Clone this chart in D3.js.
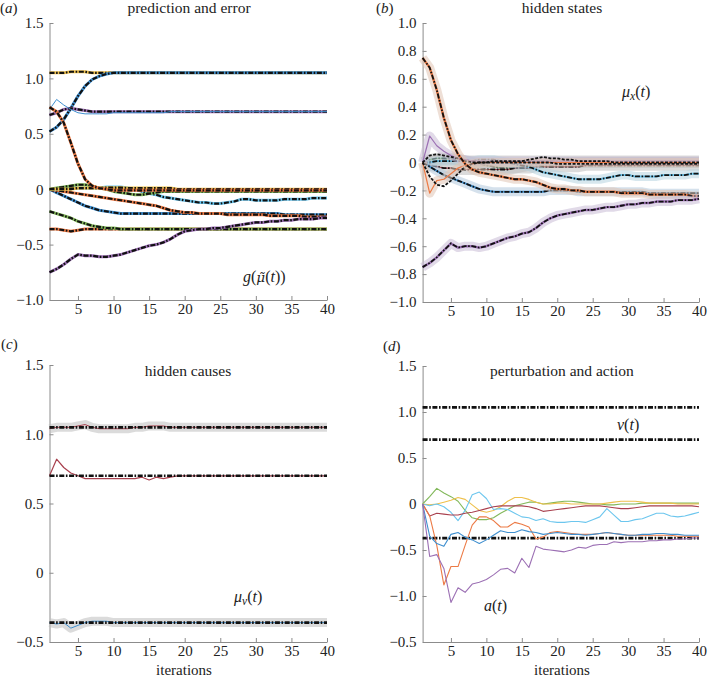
<!DOCTYPE html>
<html>
<head>
<meta charset="utf-8">
<script src="https://cdn.jsdelivr.net/npm/d3@7"></script>
<style>
  body { margin: 0; background: #fff; }
  .axis path, .axis line { stroke: #8c8c8c; }
</style>
</head>
<body>
<div id="chart"></div>
<script>
// x categories: iterations
var iterations = [1,2,3,4,5,6,7,8,9,10,11,12,13,14,15,16,17,18,19,20,21,22,23,24,25,26,27,28,29,30,31,32,33,34,35,36,37,38,39,40];

// ---- (a) prediction and error ----
var aTop     = [1.05,1.05,1.05,1.06,1.06,1.06,1.05,1.05,1.05,1.05,1.05,1.05,1.05,1.05,1.05,1.05,1.05,1.05,1.05,1.05,1.05,1.05,1.05,1.05,1.05,1.05,1.05,1.05,1.05,1.05,1.05,1.05,1.05,1.05,1.05,1.05,1.05,1.05,1.05,1.05];
var aRise    = [0.52,0.56,0.63,0.73,0.84,0.93,0.99,1.02,1.04,1.05,1.05,1.05,1.05,1.05,1.05,1.05,1.05,1.05,1.05,1.05,1.05,1.05,1.05,1.05,1.05,1.05,1.05,1.05,1.05,1.05,1.05,1.05,1.05,1.05,1.05,1.05,1.05,1.05,1.05,1.05];
var aThin    = [0.72,0.81,0.76,0.72,0.69,0.68,0.68,0.68,0.68,0.69,0.69,0.69,0.69,0.69,0.69,0.69,0.69,0.70,0.70,0.70,0.70,0.70,0.70,0.70,0.70,0.70,0.70,0.70,0.70,0.70,0.70,0.70,0.70,0.70,0.70,0.70,0.70,0.70,0.70,0.70];
var aSeven   = [0.67,0.69,0.72,0.73,0.72,0.71,0.70,0.70,0.70,0.70,0.70,0.70,0.70,0.70,0.70,0.70,0.70,0.70,0.70,0.70,0.70,0.70,0.70,0.70,0.70,0.70,0.70,0.70,0.70,0.70,0.70,0.70,0.70,0.70,0.70,0.70,0.70,0.70,0.70,0.70];
var aFall    = [0.74,0.70,0.60,0.42,0.23,0.09,0.03,0.01,0.00,-0.01,-0.01,-0.01,-0.01,-0.01,-0.01,-0.01,-0.01,-0.01,-0.01,-0.01,-0.01,-0.01,-0.01,-0.01,-0.01,-0.01,-0.01,-0.01,-0.01,-0.01,-0.01,-0.01,-0.01,-0.01,-0.01,-0.01,-0.01,-0.01,-0.01,-0.01];
var aZero    = [0.00,0.00,0.00,0.00,0.01,0.01,0.01,0.01,0.01,0.01,0.01,0.01,0.01,0.01,0.01,0.01,0.01,0.01,0.00,0.00,0.00,0.00,0.00,0.00,0.00,0.00,0.00,0.00,0.00,0.00,0.00,0.00,0.00,0.00,0.00,0.00,0.00,0.00,0.00,0.00];
var aBump    = [0.00,0.01,0.02,0.03,0.04,0.04,0.03,0.01,0.00,-0.02,-0.03,-0.04,-0.05,-0.05,-0.04,-0.03,-0.02,-0.02,-0.02,-0.02,-0.02,-0.02,-0.02,-0.02,-0.02,-0.02,-0.02,-0.02,-0.02,-0.02,-0.02,-0.02,-0.02,-0.02,-0.02,-0.02,-0.02,-0.02,-0.02,-0.02];
var aWave    = [0.00,0.00,0.01,0.01,0.01,0.01,0.01,0.01,0.02,0.02,0.02,0.01,0.00,-0.02,-0.04,-0.05,-0.07,-0.08,-0.09,-0.10,-0.11,-0.12,-0.12,-0.13,-0.13,-0.12,-0.11,-0.09,-0.09,-0.10,-0.10,-0.10,-0.10,-0.09,-0.09,-0.09,-0.09,-0.08,-0.08,-0.08];
var aSlide   = [0.00,-0.01,-0.02,-0.03,-0.04,-0.05,-0.06,-0.07,-0.08,-0.09,-0.10,-0.11,-0.12,-0.13,-0.14,-0.15,-0.17,-0.19,-0.20,-0.21,-0.21,-0.22,-0.22,-0.22,-0.22,-0.23,-0.23,-0.23,-0.23,-0.23,-0.23,-0.24,-0.24,-0.24,-0.24,-0.24,-0.25,-0.25,-0.25,-0.25];
var aDrop    = [0.00,-0.03,-0.06,-0.09,-0.12,-0.15,-0.17,-0.19,-0.20,-0.21,-0.22,-0.22,-0.22,-0.22,-0.22,-0.22,-0.22,-0.22,-0.22,-0.22,-0.22,-0.22,-0.22,-0.22,-0.22,-0.22,-0.22,-0.22,-0.22,-0.22,-0.22,-0.22,-0.22,-0.23,-0.23,-0.23,-0.23,-0.23,-0.23,-0.23];
var aGreen   = [-0.20,-0.22,-0.24,-0.26,-0.29,-0.31,-0.33,-0.34,-0.35,-0.35,-0.36,-0.36,-0.36,-0.36,-0.36,-0.36,-0.36,-0.36,-0.36,-0.36,-0.36,-0.36,-0.36,-0.36,-0.36,-0.36,-0.36,-0.36,-0.36,-0.36,-0.36,-0.36,-0.36,-0.36,-0.36,-0.36,-0.36,-0.36,-0.36,-0.36];
var aLow     = [-0.36,-0.36,-0.37,-0.38,-0.37,-0.36,-0.36,-0.36,-0.36,-0.36,-0.36,-0.36,-0.36,-0.36,-0.36,-0.36,-0.36,-0.36,-0.36,-0.36,-0.36,-0.36,-0.36,-0.36,-0.36,-0.36,-0.36,-0.36,-0.36,-0.36,-0.36,-0.36,-0.36,-0.36,-0.36,-0.36,-0.36,-0.36,-0.36,-0.36];
var aClimb   = [-0.75,-0.72,-0.68,-0.63,-0.59,-0.60,-0.60,-0.61,-0.61,-0.60,-0.59,-0.57,-0.55,-0.53,-0.51,-0.50,-0.48,-0.45,-0.41,-0.38,-0.37,-0.36,-0.36,-0.35,-0.35,-0.34,-0.33,-0.32,-0.31,-0.30,-0.30,-0.29,-0.29,-0.28,-0.28,-0.27,-0.27,-0.27,-0.26,-0.26];

// ---- (b) hidden states ----
var bFall    = [0.75,0.68,0.52,0.32,0.16,0.06,-0.01,-0.05,-0.07,-0.08,-0.09,-0.10,-0.11,-0.12,-0.12,-0.13,-0.14,-0.16,-0.18,-0.19,-0.19,-0.20,-0.20,-0.21,-0.21,-0.21,-0.21,-0.21,-0.22,-0.22,-0.22,-0.22,-0.23,-0.23,-0.23,-0.23,-0.23,-0.23,-0.24,-0.24];
var bOrange  = [0.00,-0.22,-0.13,-0.12,-0.08,-0.04,-0.02,-0.01,0.00,0.00,0.00,0.00,0.00,0.00,0.00,0.00,0.00,0.00,0.00,0.00,0.00,0.00,0.00,0.00,0.00,0.00,0.00,0.00,0.00,0.00,0.00,0.00,0.00,0.00,0.00,0.00,0.00,0.00,0.00,0.00];
var bPurple  = [0.00,0.19,0.12,0.08,0.05,0.03,0.02,0.01,0.01,0.01,0.01,0.01,0.01,0.01,0.01,0.01,0.01,0.01,0.01,0.01,0.01,0.01,0.01,0.01,0.01,0.01,0.01,0.01,0.01,0.01,0.01,0.01,0.01,0.01,0.01,0.01,0.01,0.01,0.01,0.01];
var bLoopUp  = [0.00,0.05,0.06,0.05,0.04,0.03,0.01,0.00,0.00,0.00,0.01,0.01,0.01,0.01,0.01,0.02,0.03,0.04,0.03,0.03,0.02,0.02,0.01,0.01,0.01,0.01,0.01,0.00,0.00,0.00,0.00,0.00,0.00,0.00,0.00,0.00,0.00,0.00,0.00,0.00];
var bLoopDn  = [0.00,-0.10,-0.16,-0.17,-0.13,-0.08,-0.03,-0.01,0.00,0.00,0.00,0.00,0.00,0.00,0.00,0.00,0.00,0.00,0.00,-0.01,-0.01,-0.01,-0.01,-0.01,-0.01,-0.01,-0.01,-0.01,-0.01,-0.01,-0.01,-0.01,-0.01,-0.01,-0.01,-0.01,-0.01,-0.01,-0.01,-0.01];
var bDrop    = [0.00,-0.03,-0.06,-0.09,-0.11,-0.13,-0.15,-0.17,-0.19,-0.20,-0.21,-0.21,-0.21,-0.21,-0.21,-0.21,-0.21,-0.21,-0.20,-0.20,-0.20,-0.20,-0.21,-0.21,-0.21,-0.21,-0.21,-0.21,-0.21,-0.21,-0.21,-0.21,-0.22,-0.22,-0.22,-0.22,-0.22,-0.22,-0.22,-0.22];
var bWave    = [0.00,0.00,0.01,0.01,0.01,0.01,0.01,0.01,0.02,0.02,0.02,0.01,0.00,-0.01,-0.02,-0.03,-0.05,-0.07,-0.08,-0.09,-0.10,-0.11,-0.12,-0.12,-0.12,-0.12,-0.11,-0.10,-0.09,-0.09,-0.10,-0.10,-0.10,-0.10,-0.09,-0.09,-0.09,-0.09,-0.08,-0.08];
var bClimb   = [-0.75,-0.72,-0.68,-0.63,-0.58,-0.61,-0.60,-0.60,-0.61,-0.60,-0.58,-0.56,-0.54,-0.53,-0.51,-0.50,-0.47,-0.43,-0.40,-0.38,-0.37,-0.36,-0.35,-0.34,-0.34,-0.33,-0.32,-0.32,-0.31,-0.30,-0.30,-0.29,-0.29,-0.28,-0.28,-0.28,-0.27,-0.27,-0.27,-0.26];
var bRed     = [0.00,-0.02,-0.03,-0.04,-0.04,-0.05,-0.05,-0.05,-0.05,-0.05,-0.05,-0.05,-0.05,-0.04,-0.04,-0.04,-0.03,-0.03,-0.03,-0.03,-0.03,-0.03,-0.03,-0.02,-0.02,-0.02,-0.02,-0.02,-0.02,-0.02,-0.02,-0.02,-0.02,-0.02,-0.02,-0.02,-0.02,-0.02,-0.02,-0.02];
var bGreen   = [0.00,0.02,0.03,0.03,0.03,0.02,0.01,0.00,-0.01,-0.02,-0.03,-0.04,-0.04,-0.04,-0.03,-0.02,-0.01,0.00,0.00,0.00,0.00,0.00,0.00,0.00,0.00,0.00,0.00,0.00,0.00,0.00,0.00,0.00,0.00,0.00,0.00,0.00,0.00,0.00,0.00,0.00];
var bYellow  = [0.00,0.01,0.01,0.02,0.02,0.02,0.01,0.01,0.01,0.01,0.01,0.01,0.01,0.01,0.01,0.01,0.01,0.01,0.01,0.01,0.01,0.01,0.01,0.01,0.01,0.01,0.01,0.01,0.01,0.01,0.01,0.01,0.01,0.01,0.01,0.01,0.01,0.01,0.01,0.01];

// ---- (c) hidden causes ----
var cTrueHigh = [1.05,1.05,1.05,1.05,1.05,1.05,1.05,1.05,1.05,1.05,1.05,1.05,1.05,1.05,1.05,1.05,1.05,1.05,1.05,1.05,1.05,1.05,1.05,1.05,1.05,1.05,1.05,1.05,1.05,1.05,1.05,1.05,1.05,1.05,1.05,1.05,1.05,1.05,1.05,1.05];
var cTrueMid  = [0.70,0.70,0.70,0.70,0.70,0.70,0.70,0.70,0.70,0.70,0.70,0.70,0.70,0.70,0.70,0.70,0.70,0.70,0.70,0.70,0.70,0.70,0.70,0.70,0.70,0.70,0.70,0.70,0.70,0.70,0.70,0.70,0.70,0.70,0.70,0.70,0.70,0.70,0.70,0.70];
var cTrueLow  = [-0.36,-0.36,-0.36,-0.36,-0.36,-0.36,-0.36,-0.36,-0.36,-0.36,-0.36,-0.36,-0.36,-0.36,-0.36,-0.36,-0.36,-0.36,-0.36,-0.36,-0.36,-0.36,-0.36,-0.36,-0.36,-0.36,-0.36,-0.36,-0.36,-0.36,-0.36,-0.36,-0.36,-0.36,-0.36,-0.36,-0.36,-0.36,-0.36,-0.36];
var cEstHigh  = [1.04,1.05,1.05,1.05,1.06,1.07,1.05,1.04,1.04,1.04,1.04,1.04,1.05,1.05,1.06,1.06,1.06,1.05,1.05,1.05,1.05,1.05,1.05,1.05,1.05,1.05,1.05,1.05,1.05,1.05,1.05,1.05,1.05,1.05,1.05,1.05,1.05,1.05,1.05,1.05];
var cEstMid   = [0.70,0.82,0.76,0.72,0.70,0.68,0.68,0.68,0.68,0.68,0.68,0.68,0.68,0.69,0.67,0.69,0.68,0.69,0.70,0.70,0.70,0.70,0.70,0.70,0.70,0.70,0.70,0.70,0.70,0.70,0.70,0.70,0.70,0.70,0.70,0.70,0.70,0.70,0.70,0.70];
var cEstLow   = [-0.36,-0.37,-0.36,-0.40,-0.38,-0.36,-0.35,-0.35,-0.35,-0.36,-0.36,-0.36,-0.36,-0.36,-0.36,-0.36,-0.36,-0.36,-0.36,-0.36,-0.36,-0.36,-0.36,-0.36,-0.36,-0.36,-0.36,-0.36,-0.36,-0.36,-0.36,-0.36,-0.36,-0.36,-0.36,-0.36,-0.36,-0.36,-0.36,-0.36];

// ---- (d) perturbation and action ----
var dGreen  = [0.00,0.08,0.17,0.12,0.08,0.03,-0.07,-0.15,-0.17,-0.17,-0.15,-0.10,-0.06,-0.02,0.00,0.02,0.02,0.00,0.01,0.02,0.03,0.03,0.02,0.01,0.00,0.00,-0.01,-0.01,0.00,0.00,0.00,0.01,0.01,0.01,0.01,0.01,0.01,0.01,0.01,0.01];
var dYellow = [0.00,-0.01,0.00,0.02,0.04,0.07,0.05,-0.01,-0.07,-0.09,-0.07,-0.03,0.03,0.07,0.07,0.05,0.02,0.00,0.00,0.01,0.01,0.00,0.00,0.00,0.00,0.00,0.01,0.02,0.03,0.03,0.03,0.02,0.01,0.01,0.01,0.01,0.00,0.00,0.00,0.00];
var dCyan   = [0.00,-0.02,0.00,-0.03,-0.09,-0.18,-0.07,0.10,0.13,0.06,-0.06,-0.05,-0.06,-0.10,-0.14,-0.15,-0.18,-0.16,-0.19,-0.20,-0.20,-0.19,-0.19,-0.20,-0.17,-0.14,-0.05,-0.12,-0.19,-0.19,-0.17,-0.16,-0.13,-0.10,-0.10,-0.13,-0.14,-0.13,-0.11,-0.09];
var dRed    = [0.00,-0.13,-0.10,-0.11,-0.12,-0.12,-0.10,-0.09,-0.07,-0.05,-0.03,-0.02,-0.02,-0.02,-0.02,-0.03,-0.05,-0.08,-0.07,-0.06,-0.05,-0.04,-0.03,-0.02,-0.02,-0.02,-0.03,-0.04,-0.05,-0.05,-0.04,-0.03,-0.02,-0.02,-0.02,-0.02,-0.02,-0.02,-0.02,-0.03];
var dOrange = [0.00,-0.13,-0.45,-0.88,-0.68,-0.68,-0.45,-0.23,-0.14,-0.14,-0.18,-0.25,-0.25,-0.20,-0.22,-0.25,-0.38,-0.36,-0.31,-0.30,-0.31,-0.32,-0.33,-0.33,-0.33,-0.32,-0.31,-0.32,-0.33,-0.34,-0.34,-0.34,-0.34,-0.34,-0.34,-0.34,-0.35,-0.35,-0.35,-0.35];
var dBlue   = [0.00,-0.35,-0.43,-0.46,-0.33,-0.31,-0.36,-0.39,-0.43,-0.39,-0.34,-0.29,-0.31,-0.31,-0.28,-0.30,-0.31,-0.33,-0.32,-0.31,-0.32,-0.33,-0.33,-0.34,-0.33,-0.32,-0.31,-0.32,-0.33,-0.34,-0.34,-0.33,-0.33,-0.32,-0.32,-0.33,-0.33,-0.34,-0.34,-0.34];
var dPurple = [0.00,-0.57,-0.55,-0.70,-1.07,-0.91,-0.96,-0.87,-0.85,-0.82,-0.77,-0.71,-0.70,-0.75,-0.59,-0.69,-0.46,-0.49,-0.50,-0.51,-0.52,-0.50,-0.47,-0.48,-0.45,-0.44,-0.44,-0.41,-0.42,-0.41,-0.41,-0.41,-0.40,-0.40,-0.39,-0.39,-0.38,-0.38,-0.37,-0.37];
var dPerturbLow = [-0.37,-0.37,-0.37,-0.37,-0.37,-0.37,-0.37,-0.37,-0.37,-0.37,-0.37,-0.37,-0.37,-0.37,-0.37,-0.37,-0.37,-0.37,-0.37,-0.37,-0.37,-0.37,-0.37,-0.37,-0.37,-0.37,-0.37,-0.37,-0.37,-0.37,-0.37,-0.37,-0.37,-0.37,-0.37,-0.37,-0.37,-0.37,-0.37,-0.37];

// tick values / labels
var ticksA = [1.5, 1.0, 0.5, 0, -0.5, -1.0];
var ticksB = [1.0, 0.8, 0.6, 0.4, 0.2, 0, -0.2, -0.4, -0.6, -0.8, -1.0];
var ticksC = [1.5, 1.0, 0.5, 0, -0.5];
var ticksD = [1.5, 1.0, 0.5, 0, -0.5, -1.0, -1.5];
var tickLabelsD = ["1.5", "1.0", "0.5", "0", "\u22120.5", "\u22121.0", "\u22120.5"];
var xTicks = [5, 10, 15, 20, 25, 30, 35, 40];

// colours (matlab-ish, a bit washed out like the print)
var cBlue = "#3f8fcf", cOrange = "#ec7a45", cYellow = "#eec04c", cPurple = "#9c70b4",
    cGreen = "#82b85a", cCyan = "#6cc6ee", cRed = "#a8404e";

var serifName = "Liberation Serif";
var serif = "'Liberation Serif'";

var svg = d3.select("#chart").append("svg")
  .attr("width", 708)
  .attr("height", 678);

var fmt = function(v) { return v === 0 ? "0" : d3.format(".1f")(v); };

// builds one panel with its axes, returns scales + group
function makePanel(p) {
  var x = d3.scaleLinear().domain([1, 40]).range([p.left, p.right]);
  var y = d3.scaleLinear().domain(p.domain).range([p.bottom, p.top]);
  var g = svg.append("g");

  var yAxis = d3.axisLeft(y)
    .tickValues(p.ticks)
    .tickSize(-4)
    .tickSizeOuter(0)
    .tickPadding(6)
    .tickFormat(function(d, i) { return p.labels ? p.labels[i] : fmt(d); });
  g.append("g").attr("class", "axis")
    .attr("transform", `translate(${p.left},0)`)
    .call(yAxis);

  var xAxis = d3.axisBottom(x)
    .tickValues(xTicks)
    .tickSize(-4)
    .tickSizeOuter(0)
    .tickPadding(3);
  g.append("g").attr("class", "axis")
    .attr("transform", `translate(0,${p.bottom})`)
    .call(xAxis);

  // d3 puts sans-serif on axis groups, swap it for the print serif
  g.selectAll(".axis")
    .attr("font-family", serifName)
    .attr("font-size", 15);
  g.selectAll(".axis text")
    .attr("font-family", serifName)
    .attr("font-size", 15)
    .style("font-family", serif)
    .attr("fill", "#222");
  return { x: x, y: y, g: g };
}

// draw one series in a given style
function drawSeries(panel, values, color, style) {
  var line = d3.line()
    .x(function(d, i) { return panel.x(iterations[i]); })
    .y(function(d) { return panel.y(d); });
  var g = panel.g;
  if (style.band) {
    g.append("path").datum(values)
      .attr("d", line)
      .attr("fill", "none")
      .attr("stroke", style.band)
      .attr("stroke-opacity", 0.55)
      .attr("stroke-width", style.bandWidth || 9)
      .attr("stroke-linejoin", "round");
  }
  if (color) {
    g.append("path").datum(values)
      .attr("d", line)
      .attr("fill", "none")
      .attr("stroke", color)
      .attr("stroke-width", style.width || 1.2)
      .attr("stroke-linejoin", "round");
  }
  if (style.dash) {
    g.append("path").datum(values)
      .attr("d", line)
      .attr("fill", "none")
      .attr("stroke", "#111")
      .attr("stroke-width", style.dashWidth || 2.2)
      .attr("stroke-dasharray", style.dash);
  }
}

function addText(x, y, parts, size, anchor) {
  var t = svg.append("text")
    .attr("x", x).attr("y", y)
    .attr("fill", "#222")
    .attr("text-anchor", anchor || "start")
    .attr("font-family", serifName)
    .attr("font-size", size || 14)
    .style("font-family", serif);
  parts.forEach(function(p) {
    var s = t.append("tspan").text(p.t);
    if (p.i) s.attr("font-style", "italic");
    if (p.font) s.attr("font-family", p.font).style("font-family", "'" + p.font + "'").attr("font-size", (size || 14) * 0.85);
    if (p.sub) s.attr("baseline-shift", "-25%").attr("font-size", (size || 14) * 0.72);
  });
  return t;
}

var dashDot = "5,1.6,1.6,1.6";

// ---------- (a) ----------
var pA = makePanel({ left: 49.5, right: 327, top: 23, bottom: 300, domain: [-1.0, 1.5], ticks: ticksA });
var styleA = { width: 3, dash: dashDot, dashWidth: 2.2 };
drawSeries(pA, aTop, cYellow, styleA);
drawSeries(pA, aRise, cBlue, styleA);
drawSeries(pA, aSeven, cPurple, styleA);
drawSeries(pA, aThin, cBlue, { width: 1 });
drawSeries(pA, aLow, cOrange, styleA);
drawSeries(pA, aGreen, cGreen, styleA);
drawSeries(pA, aDrop, cBlue, styleA);
drawSeries(pA, aSlide, cOrange, styleA);
drawSeries(pA, aWave, cCyan, styleA);
drawSeries(pA, aBump, cGreen, styleA);
drawSeries(pA, aZero, cYellow, styleA);
drawSeries(pA, aFall, cOrange, styleA);
drawSeries(pA, aClimb, cPurple, styleA);

// ---------- (b) ----------
var pB = makePanel({ left: 422.6, right: 699, top: 23, bottom: 302, domain: [-1.0, 1.0], ticks: ticksB });
var bandGrey = "#bdbdbd";
drawSeries(pB, bYellow, cYellow, { band: bandGrey, bandWidth: 11, width: 1.2, dash: dashDot, dashWidth: 1.6 });
drawSeries(pB, bGreen, cGreen, { band: bandGrey, bandWidth: 11, width: 1.2, dash: dashDot, dashWidth: 1.6 });
drawSeries(pB, bRed, cRed, { band: bandGrey, bandWidth: 11, width: 1.2, dash: dashDot, dashWidth: 1.8 });
drawSeries(pB, bWave, cCyan, { band: "#b6d3e0", width: 2, dash: dashDot, dashWidth: 1.8 });
drawSeries(pB, bDrop, cBlue, { band: "#b3c9dc", width: 2, dash: dashDot, dashWidth: 1.8 });
drawSeries(pB, bPurple, cPurple, { band: "#c9bcd6", width: 1.2 });
drawSeries(pB, bOrange, cOrange, { band: "#e0c4b4", width: 1.2 });
drawSeries(pB, bLoopUp, null, { dash: "3,1.5", dashWidth: 1.8 });
drawSeries(pB, bLoopDn, null, { dash: "3,1.5", dashWidth: 1.8 });
drawSeries(pB, bFall, cOrange, { band: "#e0c4b4", width: 2.4, dash: dashDot, dashWidth: 1.8 });
drawSeries(pB, bClimb, cPurple, { band: "#c9bcd6", width: 2.4, dash: dashDot, dashWidth: 1.8 });

// ---------- (c) ----------
var pC = makePanel({ left: 49.5, right: 327, top: 365, bottom: 642, domain: [-0.5, 1.5], ticks: ticksC });
drawSeries(pC, cEstHigh, cRed, { band: bandGrey, width: 1 });
drawSeries(pC, cEstMid, cRed, { width: 1.2 });
drawSeries(pC, cEstLow, cBlue, { band: bandGrey, width: 1 });
drawSeries(pC, cTrueHigh, null, { dash: dashDot, dashWidth: 2.6 });
drawSeries(pC, cTrueMid, null, { dash: dashDot, dashWidth: 2.6 });
drawSeries(pC, cTrueLow, null, { dash: dashDot, dashWidth: 2.6 });

// ---------- (d) ----------
var pD = makePanel({ left: 422.6, right: 699, top: 366, bottom: 642, domain: [-1.5, 1.5], ticks: ticksD, labels: tickLabelsD });
drawSeries(pD, cTrueHigh, null, { dash: dashDot, dashWidth: 2.8 });
drawSeries(pD, cTrueMid, null, { dash: dashDot, dashWidth: 2.8 });
drawSeries(pD, dPerturbLow, null, { dash: dashDot, dashWidth: 2.8 });
drawSeries(pD, dGreen, cGreen, { width: 1.1 });
drawSeries(pD, dYellow, cYellow, { width: 1.1 });
drawSeries(pD, dCyan, cCyan, { width: 1.1 });
drawSeries(pD, dRed, cRed, { width: 1.1 });
drawSeries(pD, dOrange, cOrange, { width: 1.1 });
drawSeries(pD, dBlue, cBlue, { width: 1.1 });
drawSeries(pD, dPurple, cPurple, { width: 1.1 });

// titles and panel letters
addText(189, 13, [{ t: "prediction and error" }], 15.5, "middle");
addText(562, 13, [{ t: "hidden states" }], 15.5, "middle");
addText(188, 376, [{ t: "hidden causes" }], 15.5, "middle");
addText(562, 376, [{ t: "perturbation and action" }], 15.5, "middle");
addText(0, 13, [{ t: "(" }, { t: "a", i: true }, { t: ")" }], 15);
addText(376, 13, [{ t: "(" }, { t: "b", i: true }, { t: ")" }], 15);
addText(1, 349, [{ t: "(" }, { t: "c", i: true }, { t: ")" }], 15);
addText(383, 351, [{ t: "(" }, { t: "d", i: true }, { t: ")" }], 15);
addText(184, 675, [{ t: "iterations" }], 15, "middle");
addText(562, 675, [{ t: "iterations" }], 15, "middle");

// line annotations
addText(243, 282, [{ t: "g", i: true }, { t: "(" }, { t: "\u03bc\u0303", i: true, font: "DejaVu Serif" }, { t: "(" }, { t: "t", i: true }, { t: "))" }], 16);
addText(622, 97, [{ t: "\u03bc", i: true }, { t: "x", i: true, sub: true }, { t: "(" }, { t: "t", i: true }, { t: ")" }], 16);
addText(234, 602, [{ t: "\u03bc", i: true }, { t: "v", i: true, sub: true }, { t: "(" }, { t: "t", i: true }, { t: ")" }], 16);
addText(617, 430, [{ t: "v", i: true }, { t: "(" }, { t: "t", i: true }, { t: ")" }], 16);
addText(484, 611, [{ t: "a", i: true }, { t: "(" }, { t: "t", i: true }, { t: ")" }], 16);
</script>
</body>
</html>
